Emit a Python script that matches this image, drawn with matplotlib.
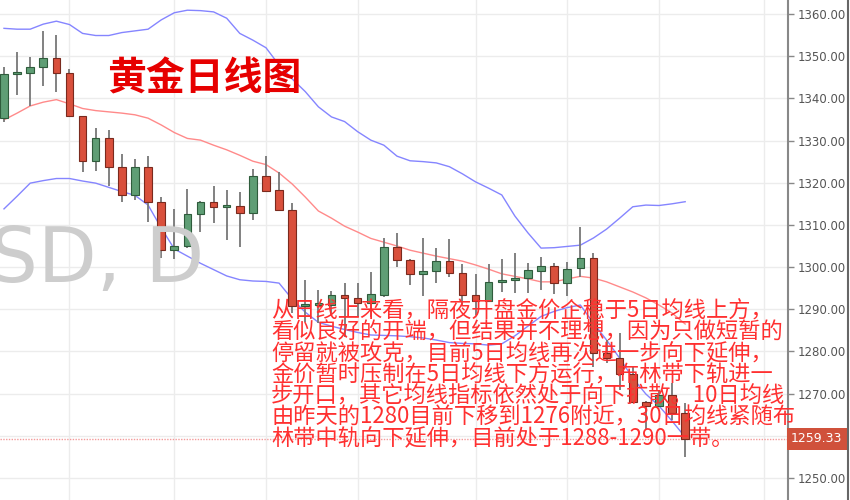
import matplotlib
matplotlib.use("Agg")
import matplotlib.pyplot as plt
import numpy as np
from matplotlib.lines import Line2D

# ---------------------------------------------------------------------------
# Daily candles (open, high, low, close)
# ---------------------------------------------------------------------------
opens = [1335.3, 1345.8, 1346.1, 1347.5, 1349.6, 1345.9, 1335.8, 1325.1, 1330.6, 1323.7,
         1317.2, 1323.8, 1315.4, 1304.0, 1305.1, 1312.5, 1315.4, 1314.2, 1314.6, 1312.9,
         1321.6, 1318.3, 1313.5, 1290.8, 1291.0, 1291.0, 1293.3, 1292.6, 1291.4, 1293.4,
         1304.8, 1301.7, 1298.3, 1299.1, 1301.4, 1298.5, 1293.4, 1292.0, 1296.5, 1296.9,
         1297.3, 1299.1, 1300.3, 1296.2, 1299.7, 1302.2, 1279.7, 1278.4, 1274.6, 1268.1,
         1267.1, 1269.7, 1265.5]
highs = [1347.4, 1351.0, 1349.8, 1356.0, 1355.0, 1346.9, 1335.9, 1333.0, 1332.5, 1326.8,
         1325.6, 1326.3, 1316.7, 1313.8, 1318.4, 1315.6, 1319.2, 1318.3, 1317.7, 1323.2,
         1326.4, 1322.5, 1315.1, 1296.9, 1294.6, 1294.4, 1296.2, 1296.3, 1298.8, 1306.8,
         1308.0, 1301.8, 1306.8, 1304.5, 1306.6, 1300.7, 1298.4, 1300.7, 1301.9, 1303.4,
         1300.9, 1302.3, 1300.9, 1301.3, 1309.4, 1303.3, 1282.7, 1284.3, 1276.5, 1268.2,
         1270.9, 1272.6, 1267.7]
lows = [1334.5, 1340.8, 1338.2, 1342.9, 1341.6, 1335.7, 1322.6, 1322.8, 1319.3, 1315.5,
        1315.9, 1310.8, 1302.2, 1302.0, 1304.6, 1308.4, 1310.5, 1306.4, 1304.7, 1311.2,
        1317.9, 1313.3, 1289.1, 1287.0, 1286.7, 1288.4, 1283.5, 1288.2, 1288.2, 1293.0,
        1300.1, 1295.8, 1293.1, 1296.2, 1297.7, 1291.0, 1288.6, 1291.8, 1294.2, 1293.8,
        1293.9, 1294.6, 1293.6, 1293.1, 1297.7, 1276.4, 1277.2, 1270.9, 1268.0, 1261.5,
        1267.0, 1263.7, 1254.9]
closes = [1345.8, 1346.3, 1347.5, 1349.6, 1345.9, 1335.8, 1325.1, 1330.6, 1323.7, 1317.2,
          1323.8, 1315.4, 1304.0, 1305.1, 1312.5, 1315.4, 1314.3, 1314.4, 1312.9, 1321.6,
          1318.1, 1313.5, 1290.8, 1291.1, 1291.2, 1293.3, 1292.7, 1291.4, 1293.6, 1304.8,
          1301.7, 1298.3, 1299.1, 1301.4, 1298.5, 1293.4, 1292.0, 1296.5, 1296.8, 1297.5,
          1299.3, 1300.3, 1296.2, 1299.5, 1302.2, 1279.7, 1278.4, 1274.6, 1268.1, 1267.1,
          1269.7, 1265.5, 1259.33]

# Bollinger bands
boll_upper = [1356.6, 1356.4, 1356.4, 1357.6, 1358.3, 1357.5, 1355.4, 1354.9, 1354.9, 1355.6,
              1356.0, 1356.4, 1358.6, 1360.3, 1360.9, 1360.8, 1360.5, 1359.0, 1355.4, 1353.8,
              1352.0, 1347.9, 1344.6, 1341.6, 1338.0, 1335.6, 1334.5, 1332.1, 1330.1, 1328.9,
              1326.3, 1325.2, 1325.0, 1324.7, 1323.8, 1322.1, 1320.2, 1318.7, 1317.1, 1312.1,
              1308.1, 1304.5, 1304.6, 1304.9, 1305.2, 1306.9, 1309.0, 1311.6, 1314.3, 1314.7,
              1314.6, 1315.0, 1315.5]
boll_mid = [1334.9, 1336.5, 1338.2, 1339.1, 1339.7, 1338.7, 1337.6, 1337.1, 1336.8, 1336.5,
            1336.1, 1335.3, 1333.7, 1331.9, 1330.5, 1330.1, 1328.9, 1327.8, 1326.5, 1325.1,
            1324.3, 1322.3, 1319.7, 1316.6, 1313.3, 1311.6, 1309.7, 1308.3, 1306.8, 1305.9,
            1305.0, 1304.0, 1303.3, 1302.6, 1302.0, 1301.4, 1300.5, 1299.5, 1298.4, 1297.8,
            1297.2, 1296.5, 1296.5, 1297.2, 1297.8, 1297.4, 1296.5, 1295.3, 1294.1, 1292.7,
            1291.0, 1289.1, 1286.5]
boll_lower = [1313.8, 1316.8, 1319.9, 1320.5, 1321.0, 1321.0, 1320.4, 1319.9, 1318.9, 1317.9,
              1317.0, 1314.7, 1309.3, 1304.3, 1302.6, 1300.9, 1299.4, 1297.9, 1297.0, 1296.7,
              1296.6, 1296.2, 1292.4, 1289.3, 1286.9, 1286.0, 1285.2, 1284.5, 1283.9, 1283.8,
              1283.7, 1283.5, 1283.2, 1282.7, 1282.1, 1281.9, 1281.8, 1281.5, 1281.8, 1283.7,
              1286.0, 1288.3, 1289.5, 1290.4, 1291.0, 1286.7, 1282.7, 1278.4, 1273.7, 1269.9,
              1267.1, 1263.5, 1259.7]

last_price = 1259.33
week_marks = [5, 13, 20, 27, 36, 43, 50, 58]
price_ticks = list(range(1250, 1361, 10))
hidden_tick = 1260  # sits under the last-price tag

title = "黄金日线图"
watermark = "XAUUSD, D"
comment_lines = [
    "从日线上来看，隔夜开盘金价企稳于5日均线上方，",
    "看似良好的开端，但结果并不理想，因为只做短暂的",
    "停留就被攻克，目前5日均线再次进一步向下延伸，",
    "金价暂时压制在5日均线下方运行，布林带下轨进一",
    "步开口，其它均线指标依然处于向下扩散。10日均线",
    "由昨天的1280目前下移到1276附近，30日均线紧随布",
    "林带中轨向下延伸，目前处于1288-1290一带。",
]

W, H = 850, 500
fig = plt.figure(figsize=(W / 100, H / 100), dpi=100)
fig.patch.set_facecolor("white")
ax = fig.add_axes([0, 0, 788 / W, 1])

# watermark behind everything
fig.text(204 / W, 1 - 282 / H, watermark, ha="right", va="baseline",
         fontsize=55, color="#cdcdcd", family="DejaVu Sans", zorder=0)
ax.set_facecolor("none")

x = np.arange(len(closes))

# grid
for p in price_ticks:
    ax.axhline(p, color="#ececec", lw=1, zorder=1)
for m in week_marks:
    ax.axvline(m, color="#ececec", lw=1, zorder=1)

# bands
ax.plot(x, boll_upper, color="#8585ff", lw=1, zorder=2)
ax.plot(x, boll_lower, color="#8585ff", lw=1, zorder=2)
ax.plot(x, boll_mid, color="#ff8a8a", lw=1, zorder=2)

# candles
o = np.array(opens)
c = np.array(closes)
up = c >= o
ax.vlines(x, lows, highs, color="#777777", lw=1.3, zorder=3)
body = np.maximum(np.abs(c - o), 0.5)
bottom = np.minimum(o, c)
ax.bar(x[up], body[up], bottom=bottom[up], width=0.58, color="#5f9e75",
       edgecolor="#2f5c3c", lw=0.8, zorder=4)
ax.bar(x[~up], body[~up], bottom=bottom[~up], width=0.58, color="#d9503c",
       edgecolor="#7a2a1e", lw=0.8, zorder=4)

# last price line and tag
ax.axhline(last_price, color="#f39a9a", lw=1, ls=(0, (1, 1)), zorder=2)
ax.text(1.004, last_price, f"{last_price:.2f}", transform=ax.get_yaxis_transform(),
        ha="left", va="center", color="white", fontsize=9, clip_on=False,
        bbox=dict(boxstyle="square,pad=0.35", fc="#d0513b", ec="none"), zorder=10)

ax.set_xlim(-0.305, 59.85)
ax.set_ylim(1244.78, 1363.32)
ax.set_xticks([])
ax.yaxis.tick_right()
ax.set_yticks(price_ticks)
ax.set_yticklabels(["" if p == hidden_tick else f"{p:.2f}" for p in price_ticks])
ax.tick_params(axis="y", length=4, width=1, color="#888888", pad=3,
               labelsize=8.5, labelcolor="#555555")
for side in ["left", "top", "bottom"]:
    ax.spines[side].set_visible(False)
ax.spines["right"].set_color("#888888")
ax.spines["right"].set_linewidth(1.5)

# right border
fig.add_artist(Line2D([848 / W, 848 / W], [0, 1], color="#666666", lw=1.5))

# title and commentary
fig.text(107 / W, 1 - 79 / H, title, ha="left", va="center", fontsize=28,
         fontweight="heavy", color="#e60000", family=["Noto Sans CJK SC", "DejaVu Sans"])
for i, line in enumerate(comment_lines):
    fig.text(271 / W, 1 - (311 + 21.3 * i) / H, line, ha="left", va="center",
             fontsize=16, color="#ff3030",
             family=["Noto Sans CJK SC", "DejaVu Sans"], zorder=20)

fig.savefig("out.png", dpi=100)
